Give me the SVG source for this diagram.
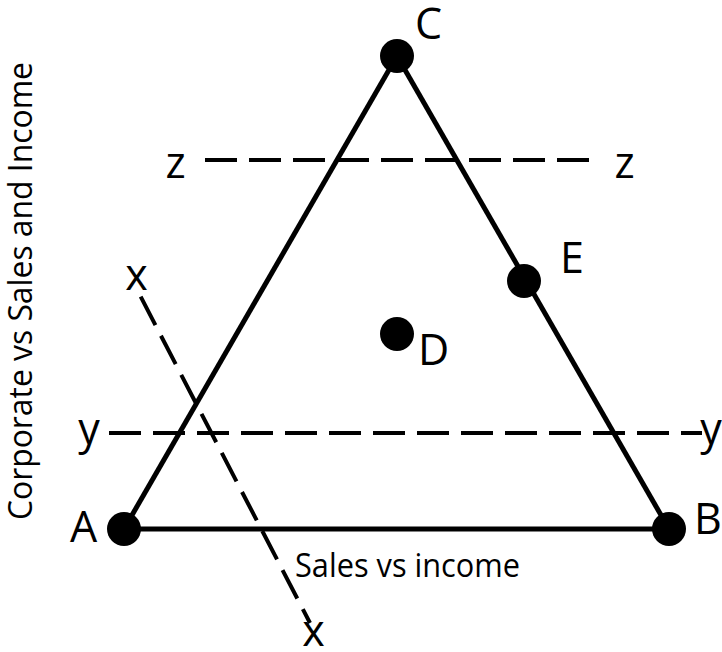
<svg xmlns="http://www.w3.org/2000/svg" width="722" height="652" viewBox="0 0 722 652">
<style>
.edge{stroke:#000;stroke-width:5;fill:none;stroke-linecap:butt}
.dash{stroke:#000;stroke-width:4;fill:none;stroke-dasharray:32 12}
.dot{fill:#000}
.lbl{font-family:"Open Sans","Liberation Sans",sans-serif;font-size:43px;fill:#000}
.cap{font-family:"Open Sans","Liberation Sans",sans-serif;font-size:33px;fill:#000}
</style>
<rect width="722" height="652" fill="#fff"/>
<g id="connectors">
<line class="edge" x1="124" y1="529" x2="397" y2="56"/>
<line class="edge" x1="397" y1="56" x2="669" y2="529"/>
<line class="edge" x1="124" y1="529" x2="669" y2="529"/>
</g>
<g id="guides">
<line class="dash" x1="205" y1="160" x2="590" y2="160"/>
<line class="dash" x1="109" y1="433" x2="702" y2="433"/>
<line class="dash" x1="140.7" y1="296.7" x2="310" y2="623"/>
<text class="lbl" x="175.5" y="178" text-anchor="middle">z</text>
<text class="lbl" x="624.5" y="178" text-anchor="middle">z</text>
<text class="lbl" x="89" y="444" text-anchor="middle">y</text>
<text class="lbl" x="711" y="444" text-anchor="middle">y</text>
<text class="lbl" x="136.5" y="290" text-anchor="middle">x</text>
<text class="lbl" x="313.5" y="646" text-anchor="middle">x</text>
</g>
<g id="node-A"><circle class="dot" cx="124" cy="529" r="17"/><text class="lbl" x="70" y="542">A</text></g>
<g id="node-B"><circle class="dot" cx="669" cy="529" r="17"/><text class="lbl" x="694" y="534">B</text></g>
<g id="node-C"><circle class="dot" cx="397" cy="56" r="17"/><text class="lbl" x="415" y="39">C</text></g>
<g id="node-D"><circle class="dot" cx="397" cy="334" r="17"/><text class="lbl" x="418" y="365">D</text></g>
<g id="node-E"><circle class="dot" cx="524" cy="281" r="17"/><text class="lbl" x="560" y="273">E</text></g>
<g id="axis-labels">
<text class="cap" transform="translate(32,291) rotate(-90)" x="0" y="0" text-anchor="middle" textLength="458" lengthAdjust="spacingAndGlyphs">Corporate vs Sales and Income</text>
<text class="cap" x="295" y="577" textLength="225" lengthAdjust="spacingAndGlyphs">Sales vs income</text>
</g>
</svg>
